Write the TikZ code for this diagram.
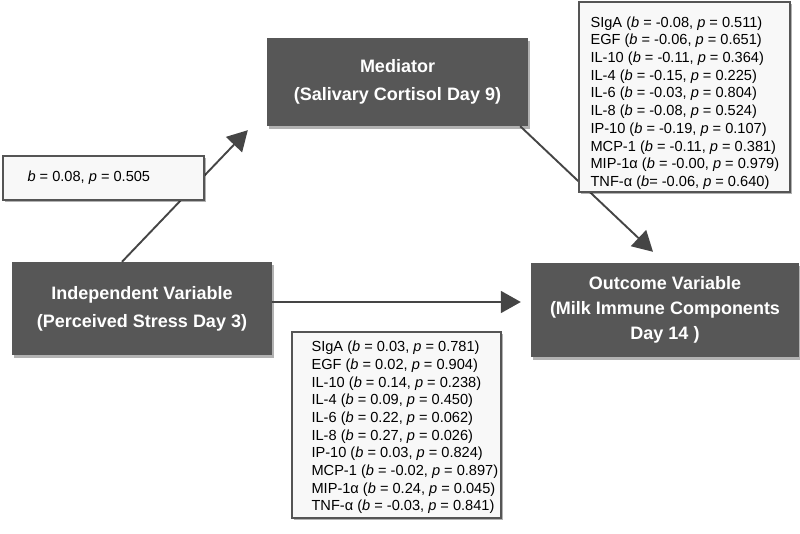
\documentclass[tikz,border=0pt]{standalone}
\usepackage{fontspec}
\setmainfont{Liberation Sans}
\usepackage{tikz}
\usetikzlibrary{arrows.meta,positioning,calc,shadows}
\usepackage{xcolor}
\definecolor{boxfill}{HTML}{575757}
\definecolor{edgegray}{HTML}{454545}
\definecolor{notefill}{HTML}{F8F8F8}
\definecolor{noteline}{HTML}{555555}
\tikzset{
  varbox/.style={rectangle,fill=boxfill,text=white,align=center,inner sep=0pt,
    font=\fontsize{18}{28}\selectfont\bfseries,
    drop shadow={shadow xshift=2pt,shadow yshift=-3pt,opacity=0.3,fill=black}},
  statbox/.style={rectangle,draw=noteline,fill=notefill,line width=1.3pt,inner sep=0pt,
    drop shadow={shadow xshift=2pt,shadow yshift=-2pt,opacity=0.3,fill=black}},
  stattext/.style={anchor=west,align=left,inner sep=0pt,text=black,
    font=\fontsize{14.6}{17.7}\selectfont},
  patharrow/.style={-{Triangle[length=20pt,width=22pt]},line width=1.9pt,color=edgegray},
}

\begin{document}
\begin{tikzpicture}[x=1pt,y=-1pt]
  \useasboundingbox (0,0) rectangle (800,534);
  % the three variables
  \node[varbox,minimum width=261pt,minimum height=88pt] (med) at (397.5,82)
    {Mediator\\(Salivary Cortisol Day 9)};
  \node[varbox,minimum width=260pt,minimum height=93pt] (indep) at (142,308.5)
    {Independent Variable\\(Perceived Stress Day 3)};
  \node[varbox,minimum width=268pt,minimum height=94pt,
    font=\fontsize{18}{25}\selectfont\bfseries] (outc) at (665,310)
    {Outcome Variable\\(Milk Immune Components\\Day 14 )};
  % paths
  \coordinate (hstart) at ([yshift=6.5pt]indep.east);
  \draw[patharrow] ([xshift=-20pt]indep.north) -- ([xshift=-19pt,yshift=-4pt]med.south west);
  \draw[patharrow] ([xshift=-8pt]med.south east) -- ([xshift=-12pt,yshift=11pt]outc.north);
  \draw[patharrow,shorten >=10pt] (hstart) -- (hstart -| outc.west);
  % coefficients
  \node[statbox,minimum width=201pt,minimum height=44pt] (apath) at (103.5,178) {};
  \node[stattext] (atext) at ([xshift=25pt]apath.west) {\textit{b} = 0.08, \textit{p} = 0.505};
  \node[statbox,minimum width=211pt,minimum height=190pt] (bpath) at (684.5,97) {};
  \node[stattext] (btext) at ([xshift=12pt,yshift=-6pt]bpath.west)
    {SIgA (\textit{b} = -0.08, \textit{p} = 0.511)\\
     EGF (\textit{b} = -0.06, \textit{p} = 0.651)\\
     IL-10 (\textit{b} = -0.11, \textit{p} = 0.364)\\
     IL-4 (\textit{b} = -0.15, \textit{p} = 0.225)\\
     IL-6 (\textit{b} = -0.03, \textit{p} = 0.804)\\
     IL-8 (\textit{b} = -0.08, \textit{p} = 0.524)\\
     IP-10 (\textit{b} = -0.19, \textit{p} = 0.107)\\
     MCP-1 (\textit{b} = -0.11, \textit{p} = 0.381)\\
     MIP-1α (\textit{b} = -0.00, \textit{p} = 0.979)\\
     TNF-α (\textit{b}= -0.06, \textit{p} = 0.640)};
  \node[statbox,minimum width=209pt,minimum height=186pt] (cpath) at (396.5,425) {};
  \node[stattext] (ctext) at ([xshift=20pt,yshift=-2.5pt]cpath.west)
    {SIgA (\textit{b} = 0.03, \textit{p} = 0.781)\\
     EGF (\textit{b} = 0.02, \textit{p} = 0.904)\\
     IL-10 (\textit{b} = 0.14, \textit{p} = 0.238)\\
     IL-4 (\textit{b} = 0.09, \textit{p} = 0.450)\\
     IL-6 (\textit{b} = 0.22, \textit{p} = 0.062)\\
     IL-8 (\textit{b} = 0.27, \textit{p} = 0.026)\\
     IP-10 (\textit{b} = 0.03, \textit{p} = 0.824)\\
     MCP-1 (\textit{b} = -0.02, \textit{p} = 0.897)\\
     MIP-1α (\textit{b} = 0.24, \textit{p} = 0.045)\\
     TNF-α (\textit{b} = -0.03, \textit{p} = 0.841)};
\end{tikzpicture}
\end{document}
